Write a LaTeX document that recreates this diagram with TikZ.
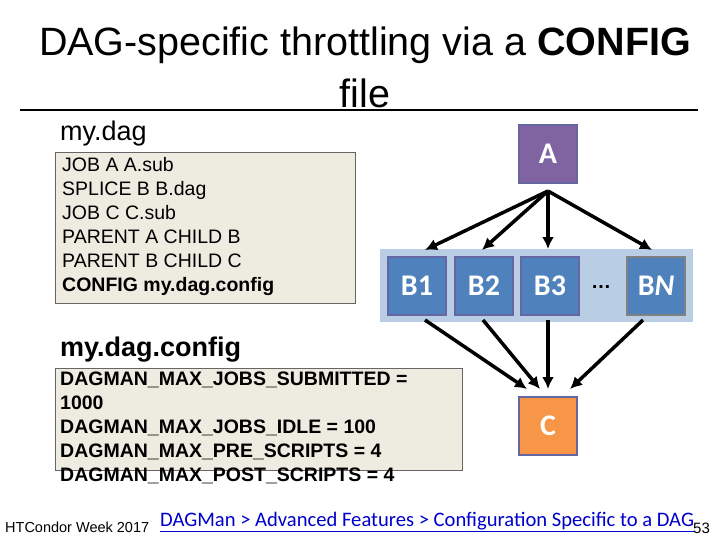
\documentclass[tikz,border=0pt]{standalone}
\usepackage{fontspec}
\setmainfont{Liberation Sans}
\newfontfamily\calfont{Carlito}
\usetikzlibrary{arrows.meta}
\definecolor{apurple}{HTML}{8064A2}
\definecolor{bblue}{HTML}{4F81BD}
\definecolor{band}{HTML}{B9CDE5}
\definecolor{corange}{HTML}{F79646}
\definecolor{boxfill}{HTML}{EEECE1}
\definecolor{linkblue}{HTML}{0000CC}
\tikzset{
  job/.style={draw=black!60!blue!60, line width=1.2pt, minimum size=58pt, inner sep=0pt,
    text=white, font=\calfont\fontsize{30}{30}\selectfont\bfseries},
  dep/.style={-{Latex[length=12pt,width=12pt]}, line width=3.5pt},
  code/.style={anchor=north west, align=left, inner sep=0pt, font=\fontsize{19.5}{24}\selectfont}
}
\begin{document}
\begin{tikzpicture}[x=1pt,y=-1pt]
  \useasboundingbox (0,0) rectangle (720,540);
  \node (t1) at (365,45) {\fontsize{39.5}{39.5}\selectfont DAG-specific throttling via a \textbf{CONFIG}};
  \node (t2) at (365,93) {\fontsize{39.5}{39.5}\selectfont file};
  \draw[line width=2pt] (20,110) -- (698,110);
  \node[anchor=west, inner sep=0pt] (l1) at (60,134) {\fontsize{27}{27}\selectfont my.dag};
  \draw[fill=boxfill, draw=black!60] (55,152) rectangle (355,303);
  \node[code] (dag) at (62,157) {JOB A A.sub\\SPLICE B B.dag\\JOB C C.sub\\PARENT A CHILD B\\PARENT B CHILD C\\\textbf{CONFIG my.dag.config}};
  \fill[band] (380,249) rectangle (693,322);
  \node[job, fill=apurple] (A) at (548,154) {A};
  \node[job, fill=bblue] (B1) at (417,286) {B1};
  \node[job, fill=bblue] (B2) at (484,286) {B2};
  \node[job, fill=bblue] (B3) at (550,286) {B3};
  \node[job, fill=bblue, draw=black!50] (BN) at (656,286) {B\textit{N}};
  \node[font=\bfseries\fontsize{20}{20}\selectfont] (dots) at (601,287) {\dots};
  \node[job, fill=corange] (C) at (548,426) {C};
  \coordinate (a0) at (548,191);
  \draw[dep] (a0) -- (425,250);
  \draw[dep] (a0) -- (482,250);
  \draw[dep] (a0) -- (548,249);
  \draw[dep] (a0) -- (652,250);
  \draw[dep] (425,320) -- (527,389);
  \draw[dep] (483,320) -- (540,389);
  \draw[dep] (548,320) -- (548,389);
  \draw[dep] (643,320) -- (570,389);
  \node[anchor=west, inner sep=0pt] (l2) at (60,350) {\fontsize{27}{27}\selectfont\bfseries my.dag.config};
  \draw[fill=boxfill, draw=black!60] (55,368) rectangle (462,470);
  \node[code, font=\bfseries\fontsize{19.5}{24}\selectfont] (cfg) at (60,372) {DAGMAN\_MAX\_JOBS\_SUBMITTED =\\1000\\DAGMAN\_MAX\_JOBS\_IDLE = 100\\DAGMAN\_MAX\_PRE\_SCRIPTS = 4\\DAGMAN\_MAX\_POST\_SCRIPTS = 4};
  \node[anchor=west, inner sep=0pt] (wk) at (5,527) {\fontsize{14.5}{14.5}\selectfont HTCondor Week 2017};
  \node[anchor=west, inner sep=0pt, text=linkblue] (lk) at (160,522) {\calfont\fontsize{20.6}{20.6}\selectfont\underline{DAGMan > Advanced Features > Configuration Specific to a DAG}};
  \node[anchor=west, inner sep=0pt] (pg) at (693,528) {\fontsize{15}{15}\selectfont 53};
\end{tikzpicture}
\end{document}
